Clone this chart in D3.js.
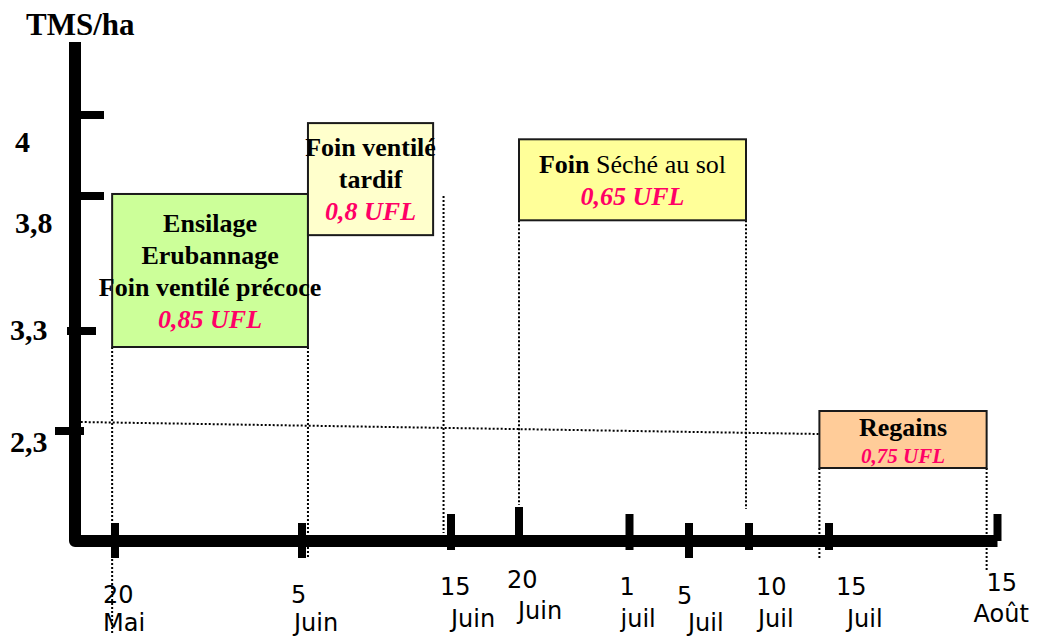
<!DOCTYPE html>
<html lang="fr">
<head>
<meta charset="UTF-8">
<title>TMS/ha et UFL selon la date de récolte</title>
<script src="https://d3js.org/d3.v7.min.js"></script>
<style>
  body { margin: 0; background: #fff; }
  svg { display: block; }
  .serif { font-family: "Liberation Serif", "Times New Roman", serif; font-weight: bold; fill: #000; }
  .date { font-family: "DejaVu Sans", Verdana, sans-serif; font-size: 24px; fill: #000; }
  .guide { fill: none; stroke: #000; stroke-width: 2px; stroke-dasharray: 2, 2; }
  .ufl { fill: #ff0066; font-style: italic; }
</style>
</head>
<body>
<svg id="chart" width="1039" height="638"></svg>
<script>
// x = days counted from 1 May, y = yield in TMS/ha
var tickDays = [20, 36, 46, 51, 62, 66, 71, 76, 107];
var tickDayLabels = ["20", "5", "15", "20", "1", "5", "10", "15", "15"];
var tickMonthLabels = ["Mai", "Juin", "Juin", "Juin", "juil", "Juil", "Juil", "Juil", "Août"];

var yTickValues = [4, 3.8, 3.3, 2.3];
var yTickLabels = ["4", "3,8", "3,3", "2,3"];

// harvest windows
var boxStart = [19.75, 36.4, 51, 75.4];
var boxEnd = [36.4, 44.8, 70.75, 105];
var boxTop = [3.805, 3.98, 3.94, 2.5];
var boxBottom = [3.14, 3.655, 3.71, 1.93];
var boxLines = [
    ["Ensilage", "Erubannage", "Foin ventilé précoce"],
    ["Foin ventilé", "tardif"],
    ["Foin| Séché au sol"],      // text after | is not bold
    ["Regains"]
];
var boxUfl = ["0,85 UFL", "0,8 UFL", "0,65 UFL", "0,75 UFL"];
var boxColors = ["#ccff99", "#ffffcc", "#ffff99", "#ffcc99"];

// dotted guides (day, from yield, to yield)
var guideDay = [19.75, 36.4, 45.5, 51, 70.75, 75.4, 105];
var guideFrom = [3.14, 3.14, 3.8, 3.71, 3.71, 1.93, 1.93];
var guideTo = [0.28, 1.04, 1.28, 1.56, 1.52, 1.02, 0.89];
var levelGuideDays = [17, 75.4];
var levelGuideValues = [2.39, 2.27];

var xOrigin = 16.5, yOrigin = 1.2, yEnd = 4.18;

var svg = d3.select("#chart");

// the dates are not evenly spaced on the drawing, so the scales are piecewise
var x = d3.scaleLinear()
    .domain([xOrigin].concat(tickDays))
    .range([75, 115, 302, 451, 519, 629.5, 689, 749, 829, 997.5]);
var y = d3.scaleLinear()
    .domain([yOrigin].concat(yTickValues.slice().reverse(), [yEnd]))
    .range([541, 431, 331, 196, 115, 42]);

// guides
guideDay.forEach(function(d, i) {
    svg.append("line").attr("class", "guide")
        .attr("x1", x(d)).attr("x2", x(d))
        .attr("y1", y(guideFrom[i])).attr("y2", y(guideTo[i]));
});
svg.append("line").attr("class", "guide")
    .attr("x1", x(levelGuideDays[0])).attr("y1", y(levelGuideValues[0]))
    .attr("x2", x(levelGuideDays[1])).attr("y2", y(levelGuideValues[1]));

// boxes
var boxText = [
    { first: 38, gap: 32, size: 26, ufl: 26 },
    { first: 33, gap: 32, size: 26, ufl: 26 },
    { first: 34, gap: 32, size: 26, ufl: 26 },
    { first: 25, gap: 27, size: 26, ufl: 21 }
];
boxStart.forEach(function(d, i) {
    svg.append("rect")
        .attr("x", x(d)).attr("y", y(boxTop[i]))
        .attr("width", x(boxEnd[i]) - x(d))
        .attr("height", y(boxBottom[i]) - y(boxTop[i]))
        .attr("fill", boxColors[i])
        .attr("stroke", "#1a1a1a").attr("stroke-width", 2);
});
boxStart.forEach(function(d, i) {
    var cx = (x(d) + x(boxEnd[i])) / 2;
    var top = y(boxTop[i]);
    var lay = boxText[i];
    boxLines[i].forEach(function(line, j) {
        var parts = line.split("|");
        var t = svg.append("text").attr("class", "serif")
            .attr("x", cx).attr("y", top + lay.first + j * lay.gap)
            .attr("text-anchor", "middle")
            .style("font-size", lay.size + "px");
        t.append("tspan").text(parts[0]);
        if (parts[1]) t.append("tspan").style("font-weight", "normal").text(parts[1]);
    });
    svg.append("text").attr("class", "serif ufl")
        .attr("x", cx).attr("y", top + lay.first + boxLines[i].length * lay.gap)
        .attr("text-anchor", "middle")
        .style("font-size", lay.ufl + "px")
        .text(boxUfl[i]);
});

// axes
svg.append("path")
    .attr("d", d3.line()([[x(xOrigin), y(yEnd)], [x(xOrigin), y(yOrigin)], [x(107), y(yOrigin)]]))
    .attr("fill", "none").attr("stroke", "#000")
    .attr("stroke-width", 12).attr("stroke-linejoin", "round");

var xTickSpan = [[-18, 17], [-18, 17], [-27, 9], [-34, -6], [-27, 9], [-18, 17], [-18, 9], [-18, 9], [-27, 0]];
var xLabelPos = [[-12, 603, -12, 631], [-11, 603, -8, 631], [-11, 595, 0, 627], [-12, 588, -1, 619],
                 [-10, 595, -9, 627], [-12, 604, -1, 631], [7, 595, 9, 627], [7, 595, 18, 627], [-11, 591, -24, 622]];
tickDays.forEach(function(d, i) {
    var px = x(d), base = y(yOrigin);
    svg.append("line")
        .attr("x1", px).attr("x2", px)
        .attr("y1", base + xTickSpan[i][0]).attr("y2", base + xTickSpan[i][1])
        .attr("stroke", "#000").attr("stroke-width", 8);
    svg.append("text").attr("class", "date")
        .attr("x", px + xLabelPos[i][0]).attr("y", xLabelPos[i][1]).text(tickDayLabels[i]);
    svg.append("text").attr("class", "date")
        .attr("x", px + xLabelPos[i][2]).attr("y", xLabelPos[i][3]).text(tickMonthLabels[i]);
});

var yTickSpan = [[6, 29], [6, 29], [-8, 21], [-20, 9]];
var yLabelPos = [[15, 37], [15, 37], [10, 9], [10, 21]];
yTickValues.forEach(function(v, i) {
    var py = y(v), ax = x(xOrigin);
    svg.append("line")
        .attr("x1", ax + yTickSpan[i][0]).attr("x2", ax + yTickSpan[i][1])
        .attr("y1", py).attr("y2", py)
        .attr("stroke", "#000").attr("stroke-width", 8);
    svg.append("text").attr("class", "serif")
        .attr("x", yLabelPos[i][0]).attr("y", py + yLabelPos[i][1])
        .style("font-size", "30px")
        .text(yTickLabels[i]);
});

svg.append("text").attr("class", "serif")
    .attr("x", 26).attr("y", 35)
    .style("font-size", "31px")
    .text("TMS/ha");
</script>
</body>
</html>
